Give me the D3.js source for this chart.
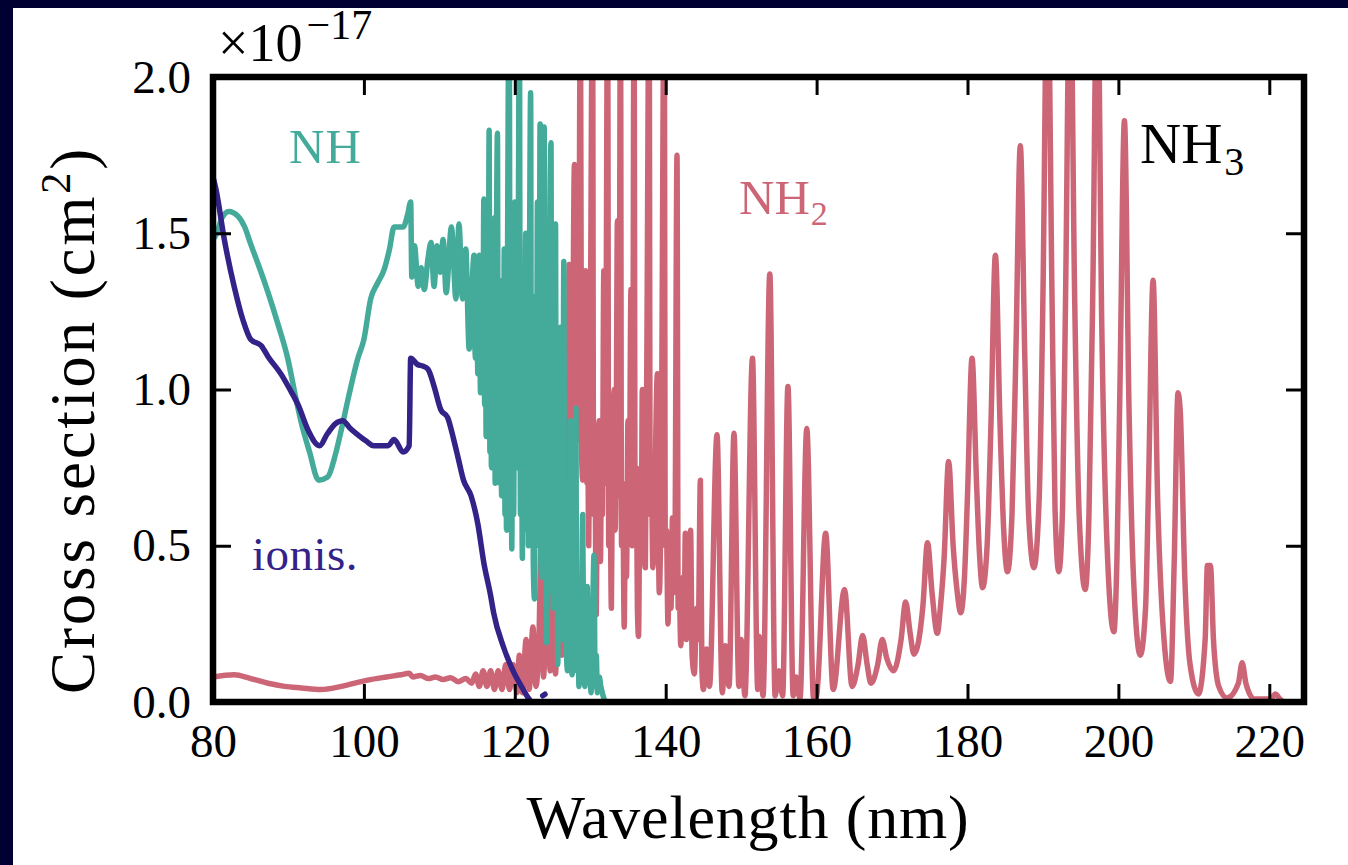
<!DOCTYPE html>
<html>
<head>
<meta charset="utf-8">
<script src="https://cdn.jsdelivr.net/npm/d3@7"></script>
<style>
  html, body { margin: 0; padding: 0; background: #000033; }
  svg { display: block; }
  text { font-family: "Liberation Serif", "Times New Roman", serif; }
</style>
</head>
<body>
<svg id="chart" width="1348" height="865"></svg>
<script>
// wavelength (nm), cross section (1e-17 cm^2)
const ionis = [
  [80.0, 1.68], [80.4, 1.64], [81.5, 1.48], [82.8, 1.33], [84.0, 1.22], [85.0, 1.16],
  [86.4, 1.14], [87.3, 1.105], [89.0, 1.05], [90.2, 1.0], [91.3, 0.95], [92.6, 0.87],
  [94.1, 0.82], [95.2, 0.86], [96.2, 0.89], [97.2, 0.90], [98.2, 0.875], [99.2, 0.855],
  [100.3, 0.835], [101.3, 0.82], [103.2, 0.82], [104.0, 0.84], [105.2, 0.80], [106.0, 0.82],
  [106.2, 1.10], [107.1, 1.08], [107.8, 1.075], [108.5, 1.065], [109.3, 1.01], [110.2, 0.935],
  [111.1, 0.91], [111.9, 0.84], [112.5, 0.78], [113.2, 0.71], [114.2, 0.66], [115.1, 0.57],
  [115.9, 0.445], [116.8, 0.34], [117.2, 0.285], [118.5, 0.176], [119.9, 0.093], [121.0, 0.045],
  [121.7, 0.016], [122.2, 0.0]
];
const ionisDot = [[123.7, 0.02], [124.0, 0.025]];

const nh = [
  [80.0, 1.48], [80.5, 1.50], [81.2, 1.55], [82.1, 1.57], [83.3, 1.555], [84.2, 1.52],
  [85.0, 1.465], [86.0, 1.40], [87.3, 1.31], [88.6, 1.21], [89.9, 1.10], [91.0, 0.97],
  [91.7, 0.894], [92.8, 0.80], [94.0, 0.71], [95.2, 0.72], [96.2, 0.79], [97.0, 0.87],
  [98.0, 0.98], [99.2, 1.10], [100.0, 1.16], [100.9, 1.29], [101.8, 1.34], [102.7, 1.385],
  [103.4, 1.45], [104.0, 1.52], [105.2, 1.52], [105.8, 1.56], [106.2, 1.60], [106.35, 1.36],
  [106.7, 1.46], [107.2, 1.33], [107.6, 1.39], [108.0, 1.32], [108.5, 1.42], [108.9, 1.47],
  [109.3, 1.33], [109.7, 1.46], [110.1, 1.375], [110.5, 1.48], [110.9, 1.31], [111.6, 1.52],
  [112.2, 1.29], [112.6, 1.53], [113.07, 1.29], [113.5, 1.45], [113.95, 1.13], [114.6, 1.43],
  [114.7, 1.15], [114.8, 1.10], [114.95, 1.38], [115.1, 1.05], [115.3, 1.43], [115.45, 0.99],
  [115.6, 1.30], [115.75, 1.0], [115.9, 1.61], [116.0, 0.95], [116.1, 1.35], [116.2, 0.85],
  [116.35, 1.5], [116.45, 0.9], [116.6, 1.83], [116.7, 0.8], [116.8, 1.4], [116.9, 0.75],
  [117.0, 1.3], [117.1, 0.85], [117.3, 1.55], [117.4, 0.7], [117.55, 1.4], [117.7, 1.82],
  [117.8, 0.8], [117.9, 1.3], [118.0, 0.7], [118.15, 1.2], [118.25, 0.66], [118.4, 1.35],
  [118.5, 0.7], [118.6, 1.45], [118.7, 0.6], [118.8, 1.2], [118.9, 0.55], [119.05, 1.5],
  [119.25, 2.3], [119.4, 0.7], [119.5, 1.4], [119.6, 0.49], [119.75, 1.3], [119.85, 0.6],
  [120.0, 1.6], [120.1, 0.8], [120.2, 1.4], [120.35, 0.75], [120.5, 1.7], [120.6, 2.3],
  [120.75, 0.6], [120.85, 1.3], [121.0, 0.46], [121.1, 1.2], [121.25, 0.55], [121.45, 1.5],
  [121.55, 0.6], [121.7, 1.3], [121.8, 0.5], [121.95, 1.4], [122.1, 1.95], [122.2, 0.7],
  [122.3, 1.3], [122.45, 0.45], [122.6, 0.33], [122.75, 1.2], [122.85, 0.5], [123.0, 1.6],
  [123.1, 0.6], [123.2, 0.50], [123.35, 1.85], [123.45, 0.45], [123.6, 0.40], [123.75, 1.3],
  [123.9, 1.84], [124.0, 0.5], [124.1, 1.1], [124.2, 0.19], [124.35, 1.0], [124.45, 0.35],
  [124.6, 1.3], [124.8, 1.79], [124.9, 0.4], [125.0, 1.0], [125.1, 0.30], [125.25, 1.1],
  [125.4, 1.53], [125.5, 0.3], [125.6, 0.9], [125.7, 0.12], [125.85, 0.8], [125.95, 0.25],
  [126.1, 1.2], [126.2, 0.3], [126.3, 0.20], [126.4, 0.8], [126.5, 1.41], [126.6, 0.25],
  [126.75, 0.7], [126.85, 0.15], [127.0, 0.10], [127.15, 0.6], [127.25, 0.2], [127.4, 0.90],
  [127.5, 0.15], [127.6, 0.087], [127.75, 0.5], [127.85, 0.12], [128.0, 0.6], [128.1, 0.94],
  [128.2, 0.1], [128.35, 0.4], [128.5, 0.05], [128.65, 0.35], [128.75, 0.08], [129.0, 0.60],
  [129.15, 0.1], [129.3, 0.05], [129.45, 0.3], [129.6, 0.37], [129.75, 0.07], [129.9, 0.2],
  [130.1, 0.03], [130.3, 0.25], [130.5, 0.47], [130.65, 0.05], [130.8, 0.15], [130.95, 0.03],
  [131.2, 0.08], [131.4, 0.05], [131.7, 0.02], [132.0, 0.0]
];

const nh2 = [
  [80.0, 0.08], [82.8, 0.087], [85.0, 0.075], [87.3, 0.06], [89.5, 0.05], [91.7, 0.045],
  [94.3, 0.04], [97.0, 0.05], [100.5, 0.07], [103.0, 0.08], [104.9, 0.087], [106.0, 0.092],
  [106.5, 0.08], [107.5, 0.085], [108.5, 0.075], [109.5, 0.08], [110.5, 0.072], [111.5, 0.078],
  [112.5, 0.065], [113.5, 0.075], [114.3, 0.06], [114.8, 0.09], [115.3, 0.05], [115.8, 0.10],
  [116.3, 0.05], [116.8, 0.10], [117.3, 0.04], [117.8, 0.10], [118.3, 0.04], [118.8, 0.12],
  [119.3, 0.04], [119.8, 0.12], [120.3, 0.03], [120.6, 0.15], [121.0, 0.03], [121.5, 0.20],
  [121.9, 0.04], [122.4, 0.24], [122.8, 0.05], [123.2, 0.20], [123.5, 0.52], [123.8, 0.08],
  [124.3, 0.36], [124.7, 0.10], [125.0, 0.35], [125.4, 0.09], [125.8, 0.60], [126.0, 0.3],
  [126.2, 0.15], [126.4, 0.7], [126.6, 1.0], [126.75, 0.5], [126.9, 0.8], [127.05, 0.5],
  [127.2, 1.40], [127.35, 0.9], [127.5, 0.85], [127.7, 1.2], [127.9, 1.72], [128.05, 0.9],
  [128.2, 1.1], [128.3, 0.84], [128.5, 1.3], [128.7, 2.3], [128.85, 0.8], [129.0, 0.71],
  [129.15, 1.0], [129.4, 1.38], [129.55, 0.7], [129.65, 0.9], [129.8, 0.50], [130.0, 1.1],
  [130.3, 2.3], [130.45, 0.6], [130.6, 0.8], [130.8, 0.28], [130.95, 0.7], [131.2, 0.90],
  [131.35, 0.45], [131.5, 0.8], [131.6, 0.60], [131.8, 1.38], [131.95, 0.7], [132.05, 0.9],
  [132.3, 2.3], [132.45, 0.5], [132.6, 0.75], [132.8, 0.30], [132.95, 0.8], [133.2, 1.0],
  [133.3, 0.55], [133.45, 0.9], [133.6, 1.54], [133.75, 0.66], [133.85, 1.0], [134.0, 2.3],
  [134.15, 0.5], [134.3, 0.7], [134.5, 0.24], [134.65, 0.6], [134.8, 0.4], [135.0, 0.90],
  [135.15, 0.55], [135.4, 1.32], [135.55, 0.50], [135.65, 0.9], [135.8, 2.3], [135.95, 0.6],
  [136.1, 0.75], [136.25, 0.3], [136.4, 0.21], [136.6, 0.7], [136.75, 0.45], [136.9, 1.0],
  [137.1, 0.5], [137.3, 0.43], [137.5, 1.1], [137.8, 2.3], [137.95, 0.6], [138.1, 0.75],
  [138.3, 0.43], [138.5, 0.6], [138.9, 1.05], [139.05, 0.5], [139.15, 0.35], [139.4, 0.7],
  [139.8, 2.3], [139.95, 0.5], [140.1, 0.55], [140.3, 0.25], [140.5, 0.45], [140.7, 0.3],
  [140.9, 0.59], [141.05, 0.35], [141.2, 0.4], [141.5, 1.75], [141.65, 0.3], [141.8, 0.35],
  [142.0, 0.18], [142.3, 0.4], [142.45, 0.25], [142.6, 0.54], [142.75, 0.2], [142.9, 0.30],
  [143.1, 0.45], [143.3, 0.55], [143.5, 0.15], [143.8, 0.09], [144.1, 0.3], [144.3, 0.2],
  [144.6, 0.71], [144.8, 0.1], [145.0, 0.04], [145.4, 0.17], [145.8, 0.05], [146.8, 0.855],
  [147.5, 0.03], [147.9, 0.18], [148.4, 0.05], [149.05, 0.86], [149.7, 0.05], [150.0, 0.20],
  [150.5, 0.02], [151.5, 1.10], [152.2, 0.04], [152.4, 0.21], [152.9, 0.02], [153.8, 1.37],
  [154.5, 0.02], [155.0, 0.10], [155.5, 0.02], [156.2, 1.01], [156.9, 0.02], [157.3, 0.08],
  [157.8, 0.01], [158.7, 0.875], [159.6, 0.01], [160.0, 0.02], [161.2, 0.54], [162.2, 0.04],
  [163.7, 0.36], [164.7, 0.05], [165.5, 0.12], [166.1, 0.213], [166.7, 0.12], [167.2, 0.06],
  [168.1, 0.12], [168.7, 0.20], [169.3, 0.14], [170.2, 0.10], [171.2, 0.20], [171.8, 0.32],
  [172.4, 0.22], [172.9, 0.153], [174.1, 0.31], [174.7, 0.51], [175.3, 0.35], [176.0, 0.22],
  [176.4, 0.30], [176.9, 0.46], [177.5, 0.77], [178.1, 0.50], [178.6, 0.36], [179.1, 0.286],
  [179.6, 0.40], [180.0, 0.66], [180.6, 1.10], [181.2, 0.70], [181.6, 0.47], [182.0, 0.366],
  [182.6, 0.50], [183.1, 0.88], [183.7, 1.43], [184.3, 0.90], [184.8, 0.55], [185.3, 0.417],
  [185.9, 0.60], [186.4, 1.10], [187.0, 1.78], [187.6, 1.10], [188.1, 0.60], [188.8, 0.43],
  [189.5, 0.65], [190.0, 1.30], [190.6, 2.4], [191.2, 1.30], [191.6, 0.62], [192.1, 0.417],
  [192.6, 0.62], [193.0, 1.30], [193.6, 2.4], [194.2, 1.30], [194.8, 0.60], [195.6, 0.36],
  [196.1, 0.60], [196.6, 1.30], [197.2, 2.4], [197.8, 1.20], [198.5, 0.50], [199.4, 0.225],
  [199.8, 0.45], [200.2, 1.0], [200.8, 1.86], [201.4, 0.95], [202.0, 0.40], [202.9, 0.15],
  [203.6, 0.30], [204.0, 0.70], [204.6, 1.35], [205.2, 0.65], [205.9, 0.25], [206.9, 0.066],
  [207.4, 0.45], [207.9, 0.99], [208.2, 0.93], [208.8, 0.40], [209.5, 0.12], [210.6, 0.026],
  [211.5, 0.20], [211.8, 0.437], [212.2, 0.437], [212.6, 0.20], [213.3, 0.05], [214.4, 0.013],
  [215.9, 0.06], [216.4, 0.126], [216.9, 0.06], [218.0, 0.01], [220.2, 0.01], [220.8, 0.026],
  [221.4, 0.01], [221.9, 0.0]
];

const xTicks = [80, 100, 120, 140, 160, 180, 200, 220];
const yTicks = [0.0, 0.5, 1.0, 1.5, 2.0];

const svg = d3.select('#chart');
const W = 1348, H = 865;
const mLeft = 213, mRight = 1304, mTop = 77, mBottom = 702;

// white page inside the dark slide border
svg.append('rect').attr('x', 13).attr('y', 8).attr('width', W - 13).attr('height', H - 8).attr('fill', '#fff');

const x = d3.scaleLinear().domain([80, 224.6]).range([mLeft, mRight]);
const y = d3.scaleLinear().domain([0, 2]).range([mBottom, mTop]);

svg.append('clipPath').attr('id', 'clip')
  .append('rect').attr('x', mLeft).attr('y', mTop).attr('width', mRight - mLeft).attr('height', mBottom - mTop);

const line = d3.line().x(d => x(d[0])).y(d => y(d[1])).curve(d3.curveMonotoneX);
const plot = svg.append('g').attr('clip-path', 'url(#clip)');

const series = [
  {data: nh2, color: '#cc6677'},
  {data: nh, color: '#44aa99'},
  {data: ionis, color: '#332288'},
  {data: ionisDot, color: '#332288'}
];
series.forEach(s => {
  plot.append('path').datum(s.data)
    .attr('d', line)
    .attr('fill', 'none')
    .attr('stroke', s.color)
    .attr('stroke-width', 5.5)
    .attr('stroke-linejoin', 'round')
    .attr('stroke-linecap', 'round');
});

// axes, ticks pointing inward on all four sides
const tickLen = 18;
svg.append('g').attr('transform', `translate(0,${mBottom})`)
  .call(d3.axisBottom(x).tickValues(xTicks).tickSize(-tickLen).tickPadding(22).tickFormat(d3.format('d')))
  .call(g => g.select('.domain').remove());
svg.append('g').attr('transform', `translate(0,${mTop})`)
  .call(d3.axisTop(x).tickValues(xTicks).tickSize(-tickLen).tickFormat(''))
  .call(g => g.select('.domain').remove());
svg.append('g').attr('transform', `translate(${mLeft},0)`)
  .call(d3.axisLeft(y).tickValues(yTicks).tickSize(-tickLen).tickPadding(22).tickFormat(d3.format('.1f')))
  .call(g => g.select('.domain').remove());
svg.append('g').attr('transform', `translate(${mRight},0)`)
  .call(d3.axisRight(y).tickValues(yTicks).tickSize(-tickLen).tickFormat(''))
  .call(g => g.select('.domain').remove());

svg.selectAll('.tick line').attr('stroke', '#000').attr('stroke-width', 3);
svg.selectAll('.tick text').attr('fill', '#000').style('font-size', '47px')
  .style('font-family', '"Liberation Serif", serif');

svg.append('rect').attr('x', mLeft).attr('y', mTop).attr('width', mRight - mLeft).attr('height', mBottom - mTop)
  .attr('fill', 'none').attr('stroke', '#000').attr('stroke-width', 6.5);

// stretch a label's letter spacing so it spans the same width as in the figure
function fitWidth(t, target) {
  const node = t.node();
  const n = node.textContent.length;
  const w = node.getComputedTextLength();
  t.style('letter-spacing', ((target - w) / n) + 'px');
}

// axis titles
svg.append('text').attr('x', 748).attr('y', 838)
  .attr('text-anchor', 'middle').style('font-size', '62px').text('Wavelength (nm)')
  .call(fitWidth, 443);
svg.append('text').attr('transform', 'translate(94,420) rotate(-90)')
  .attr('text-anchor', 'middle').style('font-size', '63px')
  .call(t => {
    t.append('tspan').text('Cross section (cm');
    t.append('tspan').attr('dy', -24).style('font-size', '42px').text('2');
    t.append('tspan').attr('dy', 24).text(')');
  })
  .call(fitWidth, 548);

// scale factor
svg.append('text').attr('x', 218).attr('y', 61).style('font-size', '54px')
  .call(t => {
    t.append('tspan').text('×10');
    t.append('tspan').attr('dx', 4).attr('dy', -22).style('font-size', '42px').text('−17');
  });

// curve labels
svg.append('text').attr('x', 289).attr('y', 163).attr('fill', '#44aa99').style('font-size', '49px')
  .text('NH').call(fitWidth, 73);
svg.append('text').attr('x', 252).attr('y', 570).attr('fill', '#332288').style('font-size', '47px')
  .text('ionis.').call(fitWidth, 106);
svg.append('text').attr('x', 739).attr('y', 214).attr('fill', '#cc6677').style('font-size', '49px')
  .call(t => {
    t.append('tspan').text('NH');
    t.append('tspan').attr('dx', 1).attr('dy', 11).style('font-size', '34px').text('2');
  });
svg.append('text').attr('x', 1140).attr('y', 163).attr('fill', '#000').style('font-size', '57px')
  .call(t => {
    t.append('tspan').text('NH');
    t.append('tspan').attr('dx', 2).attr('dy', 12).style('font-size', '40px').text('3');
  });
</script>
</body>
</html>
